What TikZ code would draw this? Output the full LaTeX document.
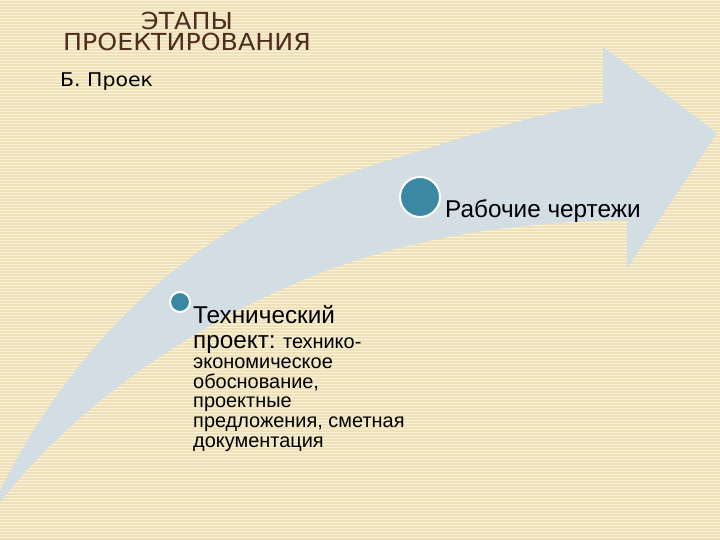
\documentclass[tikz,border=0pt]{standalone}
\usepackage{fontspec}
\setmainfont{Liberation Sans}
\newfontfamily\headfont[FakeStretch=1.08]{DejaVu Sans}

\definecolor{paper}{RGB}{239,224,184}
\definecolor{paperline}{RGB}{250,243,220}
\definecolor{band}{RGB}{210,221,228}
\definecolor{stagefill}{RGB}{58,136,162}
\definecolor{headbrown}{RGB}{78,44,30}

\tikzset{
  stagedot/.style={circle, fill=stagefill, draw=white, line width=2pt, inner sep=0pt},
  stagetext/.style={inner sep=0pt, text=black}
}

\begin{document}
\begin{tikzpicture}[x=1bp,y=-1bp]

\useasboundingbox (0,0) rectangle (720,540);
\fill[paper] (0,0) rectangle (720,540);
\foreach \i in {0,...,179}
  \fill[paperline] (0,3*\i) rectangle (720,3*\i+1.3);

% curved arrow
\fill[band] (0,491) .. controls (70,350) and (190,220) .. (380,163)
  .. controls (470,136) and (540,112) .. (603,103) -- (603,47) -- (717,133)
  -- (627,268) -- (627,220)
  .. controls (520,222) and (420,235) .. (320,273)
  .. controls (200,320) and (80,400) .. (0,502) -- cycle;

\node[anchor=north, align=center, inner sep=0pt, text=headbrown,
  font=\headfont\fontsize{23.5}{21.5}\selectfont] (title) at (187,12) {ЭТАПЫ\\ПРОЕКТИРОВАНИЯ};
\node[anchor=base west, stagetext, font=\headfont\fontsize{19}{24}\selectfont] (sub) at (60,87) {Б. Проек};

\node[stagedot, minimum size=20bp] (techdot) at (180,302) {};
\node[stagedot, minimum size=40bp] (workdot) at (420,197) {};

\node[anchor=north west, stagetext, align=left,
  font=\fontsize{20}{20}\selectfont] (techtext) at (193,305)
  {{\fontsize{24.4}{25}\selectfont Технический}\\[5pt]{\fontsize{24.4}{25}\selectfont проект:} технико-\\экономическое\\обоснование,\\проектные\\предложения, сметная\\документация};
\node[anchor=base west, stagetext, font=\fontsize{24.4}{25}\selectfont] (worktext) at (445,218) {Рабочие чертежи};

\end{tikzpicture}
\end{document}
